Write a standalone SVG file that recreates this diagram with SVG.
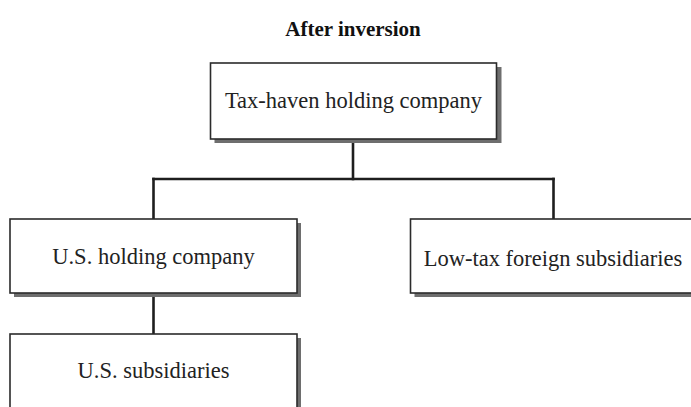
<svg xmlns="http://www.w3.org/2000/svg" width="691" height="407" viewBox="0 0 691 407">
  <style>
    .shadow { fill: #6e6e6e; }
    .box { fill: #ffffff; stroke: #2b2b2b; stroke-width: 1.6; }
    .label { font-family: "Liberation Serif", "Times New Roman", serif; font-size: 22.5px; fill: #222222; text-anchor: middle; }
    .title { font-family: "Liberation Serif", "Times New Roman", serif; font-size: 21px; font-weight: bold; fill: #111111; text-anchor: middle; }
    .link { fill: none; stroke: #1e1e1e; stroke-width: 2.6; stroke-linecap: square; }
  </style>

  <rect width="691" height="407" fill="#ffffff"/>

  <text class="title" x="353" y="36">After inversion</text>

  <!-- tree connectors -->
  <g id="connectors">
    <path class="link" d="M353,140 V179"/>
    <path class="link" d="M153.5,179 H553.5"/>
    <path class="link" d="M153.5,179 V218"/>
    <path class="link" d="M553.5,179 V218"/>
    <path class="link" d="M153.5,294 V333"/>
  </g>

  <g id="tax-haven-holding">
    <rect class="shadow" x="214.5" y="67" width="287" height="76"/>
    <rect class="box" x="210.5" y="63" width="286" height="76"/>
    <text class="label" x="353.5" y="108">Tax-haven holding company</text>
  </g>

  <g id="us-holding">
    <rect class="shadow" x="14" y="223" width="287" height="74"/>
    <rect class="box" x="10" y="219" width="287" height="74"/>
    <text class="label" x="153.5" y="264">U.S. holding company</text>
  </g>

  <g id="low-tax-foreign">
    <rect class="shadow" x="414.5" y="223" width="290" height="74"/>
    <rect class="box" x="410.5" y="219" width="290" height="74"/>
    <text class="label" x="553" y="266">Low-tax foreign subsidiaries</text>
  </g>

  <g id="us-subsidiaries">
    <rect class="shadow" x="14" y="338" width="287" height="80"/>
    <rect class="box" x="10" y="334" width="287" height="80"/>
    <text class="label" x="153.5" y="378">U.S. subsidiaries</text>
  </g>
</svg>
